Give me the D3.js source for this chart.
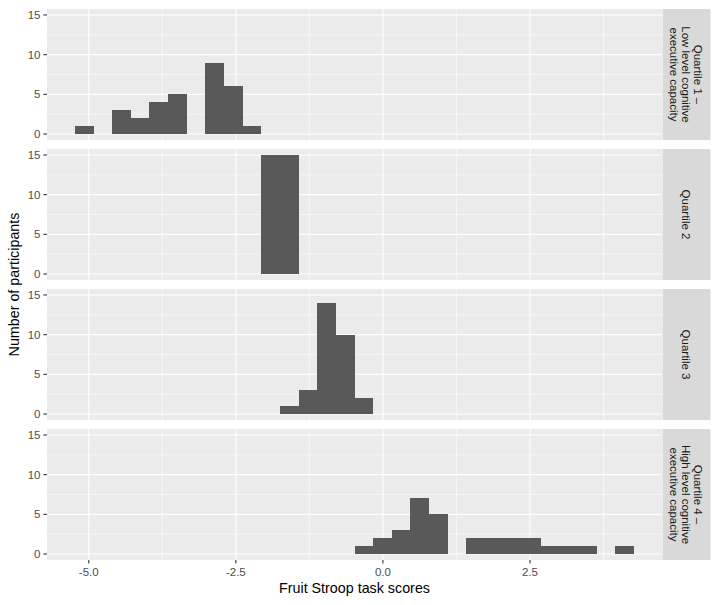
<!DOCTYPE html>
<html>
<head>
<meta charset="utf-8">
<script src="https://cdn.jsdelivr.net/npm/d3@7"></script>
<style>
  html, body { margin: 0; padding: 0; background: #ffffff; }
  svg { display: block; }
  text { font-family: "Liberation Sans", Arial, Helvetica, sans-serif; }
</style>
</head>
<body>
<svg id="chart" width="718" height="605"></svg>
<script>
// ---------------- data ----------------
const quartileLabels = [
  ["Quartile 1 \u2013", "Low level cognitive", "executive capacity"],
  ["Quartile 2"],
  ["Quartile 3"],
  ["Quartile 4 \u2013", "High level cognitive", "executive capacity"]
];
// histogram bin edges (31 edges -> 30 bins)
const binEdges = [-5.235, -4.918, -4.602, -4.285, -3.968, -3.651, -3.334, -3.018, -2.701, -2.384,
  -2.067, -1.750, -1.434, -1.117, -0.800, -0.483, -0.166, 0.150, 0.467, 0.784,
  1.101, 1.418, 1.734, 2.051, 2.368, 2.685, 3.002, 3.318, 3.635, 3.952, 4.269];
// counts per bin for each quartile
const countsQ1 = [1,0,3,2,4,5,0,9,6,1, 0,0,0,0,0,0,0,0,0,0, 0,0,0,0,0,0,0,0,0,0];
const countsQ2 = [0,0,0,0,0,0,0,0,0,0, 15,15,0,0,0,0,0,0,0,0, 0,0,0,0,0,0,0,0,0,0];
const countsQ3 = [0,0,0,0,0,0,0,0,0,0, 0,1,3,14,10,2,0,0,0,0, 0,0,0,0,0,0,0,0,0,0];
const countsQ4 = [0,0,0,0,0,0,0,0,0,0, 0,0,0,0,0,1,2,3,7,5, 0,2,2,2,2,1,1,1,0,1];
const xTicks = [-5.0, -2.5, 0.0, 2.5];
const xTickLabels = ["-5.0", "-2.5", "0.0", "2.5"];
const xMinor = [-3.75, -1.25, 1.25, 3.75];
const yTicks = [0, 5, 10, 15];
const yMinor = [2.5, 7.5, 12.5];
const xTitle = "Fruit Stroop task scores";
const yTitle = "Number of participants";

const allCounts = [countsQ1, countsQ2, countsQ3, countsQ4];

// ---------------- layout ----------------
const svg = d3.select("#chart");
const panelLeft = 47, panelRight = 662;
const stripLeft = 662.5, stripRight = 710.5;
const panelTops = [9, 149, 289, 429];
const panelH = 131;

const xLo = binEdges[0], xHi = binEdges[binEdges.length - 1];
const xPad = (xHi - xLo) * 0.05;
const x = d3.scaleLinear().domain([xLo - xPad, xHi + xPad]).range([panelLeft, panelRight]);

const yMaxData = 15;
const yPad = yMaxData * 0.05;

const tickCol = "#333333", labCol = "#4d4d4d";

allCounts.forEach((counts, i) => {
  const top = panelTops[i];
  const y = d3.scaleLinear().domain([-yPad, yMaxData + yPad]).range([top + panelH, top]);
  const g = svg.append("g");

  // panel background
  g.append("rect").attr("x", panelLeft).attr("y", top)
    .attr("width", panelRight - panelLeft).attr("height", panelH).attr("fill", "#ebebeb");

  // minor grid
  g.selectAll(".xminor").data(xMinor).enter().append("line")
    .attr("x1", d => x(d)).attr("x2", d => x(d)).attr("y1", top).attr("y2", top + panelH)
    .attr("stroke", "#ffffff").attr("stroke-width", 0.55);
  g.selectAll(".yminor").data(yMinor).enter().append("line")
    .attr("x1", panelLeft).attr("x2", panelRight).attr("y1", d => y(d)).attr("y2", d => y(d))
    .attr("stroke", "#ffffff").attr("stroke-width", 0.55);
  // major grid
  g.selectAll(".xmajor").data(xTicks).enter().append("line")
    .attr("x1", d => x(d)).attr("x2", d => x(d)).attr("y1", top).attr("y2", top + panelH)
    .attr("stroke", "#ffffff").attr("stroke-width", 1.1);
  g.selectAll(".ymajor").data(yTicks).enter().append("line")
    .attr("x1", panelLeft).attr("x2", panelRight).attr("y1", d => y(d)).attr("y2", d => y(d))
    .attr("stroke", "#ffffff").attr("stroke-width", 1.1);

  // bars
  const bins = counts.map((c, k) => ({ x0: binEdges[k], x1: binEdges[k + 1], c: c }))
    .filter(b => b.c > 0);
  g.selectAll(".bar").data(bins).enter().append("rect")
    .attr("x", d => x(d.x0)).attr("width", d => x(d.x1) - x(d.x0))
    .attr("y", d => y(d.c)).attr("height", d => y(0) - y(d.c))
    .attr("fill", "#595959").attr("shape-rendering", "crispEdges");

  // y axis ticks + labels
  g.selectAll(".ytick").data(yTicks).enter().append("line")
    .attr("x1", panelLeft - 3.6).attr("x2", panelLeft).attr("y1", d => y(d)).attr("y2", d => y(d))
    .attr("stroke", tickCol).attr("stroke-width", 1.1);
  g.selectAll(".ylab").data(yTicks).enter().append("text")
    .attr("x", panelLeft - 6.5).attr("y", d => y(d)).attr("dy", "0.35em")
    .attr("text-anchor", "end").attr("font-size", "11.5px").attr("fill", labCol)
    .text(d => d);

  // strip
  g.append("rect").attr("x", stripLeft).attr("y", top)
    .attr("width", stripRight - stripLeft).attr("height", panelH).attr("fill", "#d9d9d9");
  const lines = quartileLabels[i];
  const cx = (stripLeft + stripRight) / 2, cy = top + panelH / 2;
  const lh = 12;
  lines.forEach((ln, j) => {
    const off = ((lines.length - 1) / 2 - j) * lh;
    g.append("text")
      .attr("transform", `translate(${cx + off},${cy}) rotate(90)`)
      .attr("text-anchor", "middle").attr("dy", "0.35em")
      .attr("font-size", "11.5px").attr("fill", "#1a1a1a")
      .text(ln);
  });
});

// x axis on bottom panel
const bottom = panelTops[3] + panelH;
const xa = svg.append("g");
xa.selectAll("line").data(xTicks).enter().append("line")
  .attr("x1", d => x(d)).attr("x2", d => x(d)).attr("y1", bottom).attr("y2", bottom + 3.6)
  .attr("stroke", tickCol).attr("stroke-width", 1.1);
xa.selectAll("text").data(xTicks).enter().append("text")
  .attr("x", d => x(d)).attr("y", bottom + 15.5)
  .attr("text-anchor", "middle").attr("font-size", "11.5px").attr("fill", labCol)
  .text((d, i) => xTickLabels[i]);

// titles
svg.append("text").attr("x", (panelLeft + panelRight) / 2).attr("y", 593)
  .attr("text-anchor", "middle").attr("font-size", "14.3px").attr("fill", "#000000")
  .text(xTitle);
svg.append("text")
  .attr("transform", `translate(19,${(panelTops[0] + bottom) / 2}) rotate(-90)`)
  .attr("text-anchor", "middle").attr("font-size", "14.3px").attr("fill", "#000000")
  .text(yTitle);
</script>
</body>
</html>
